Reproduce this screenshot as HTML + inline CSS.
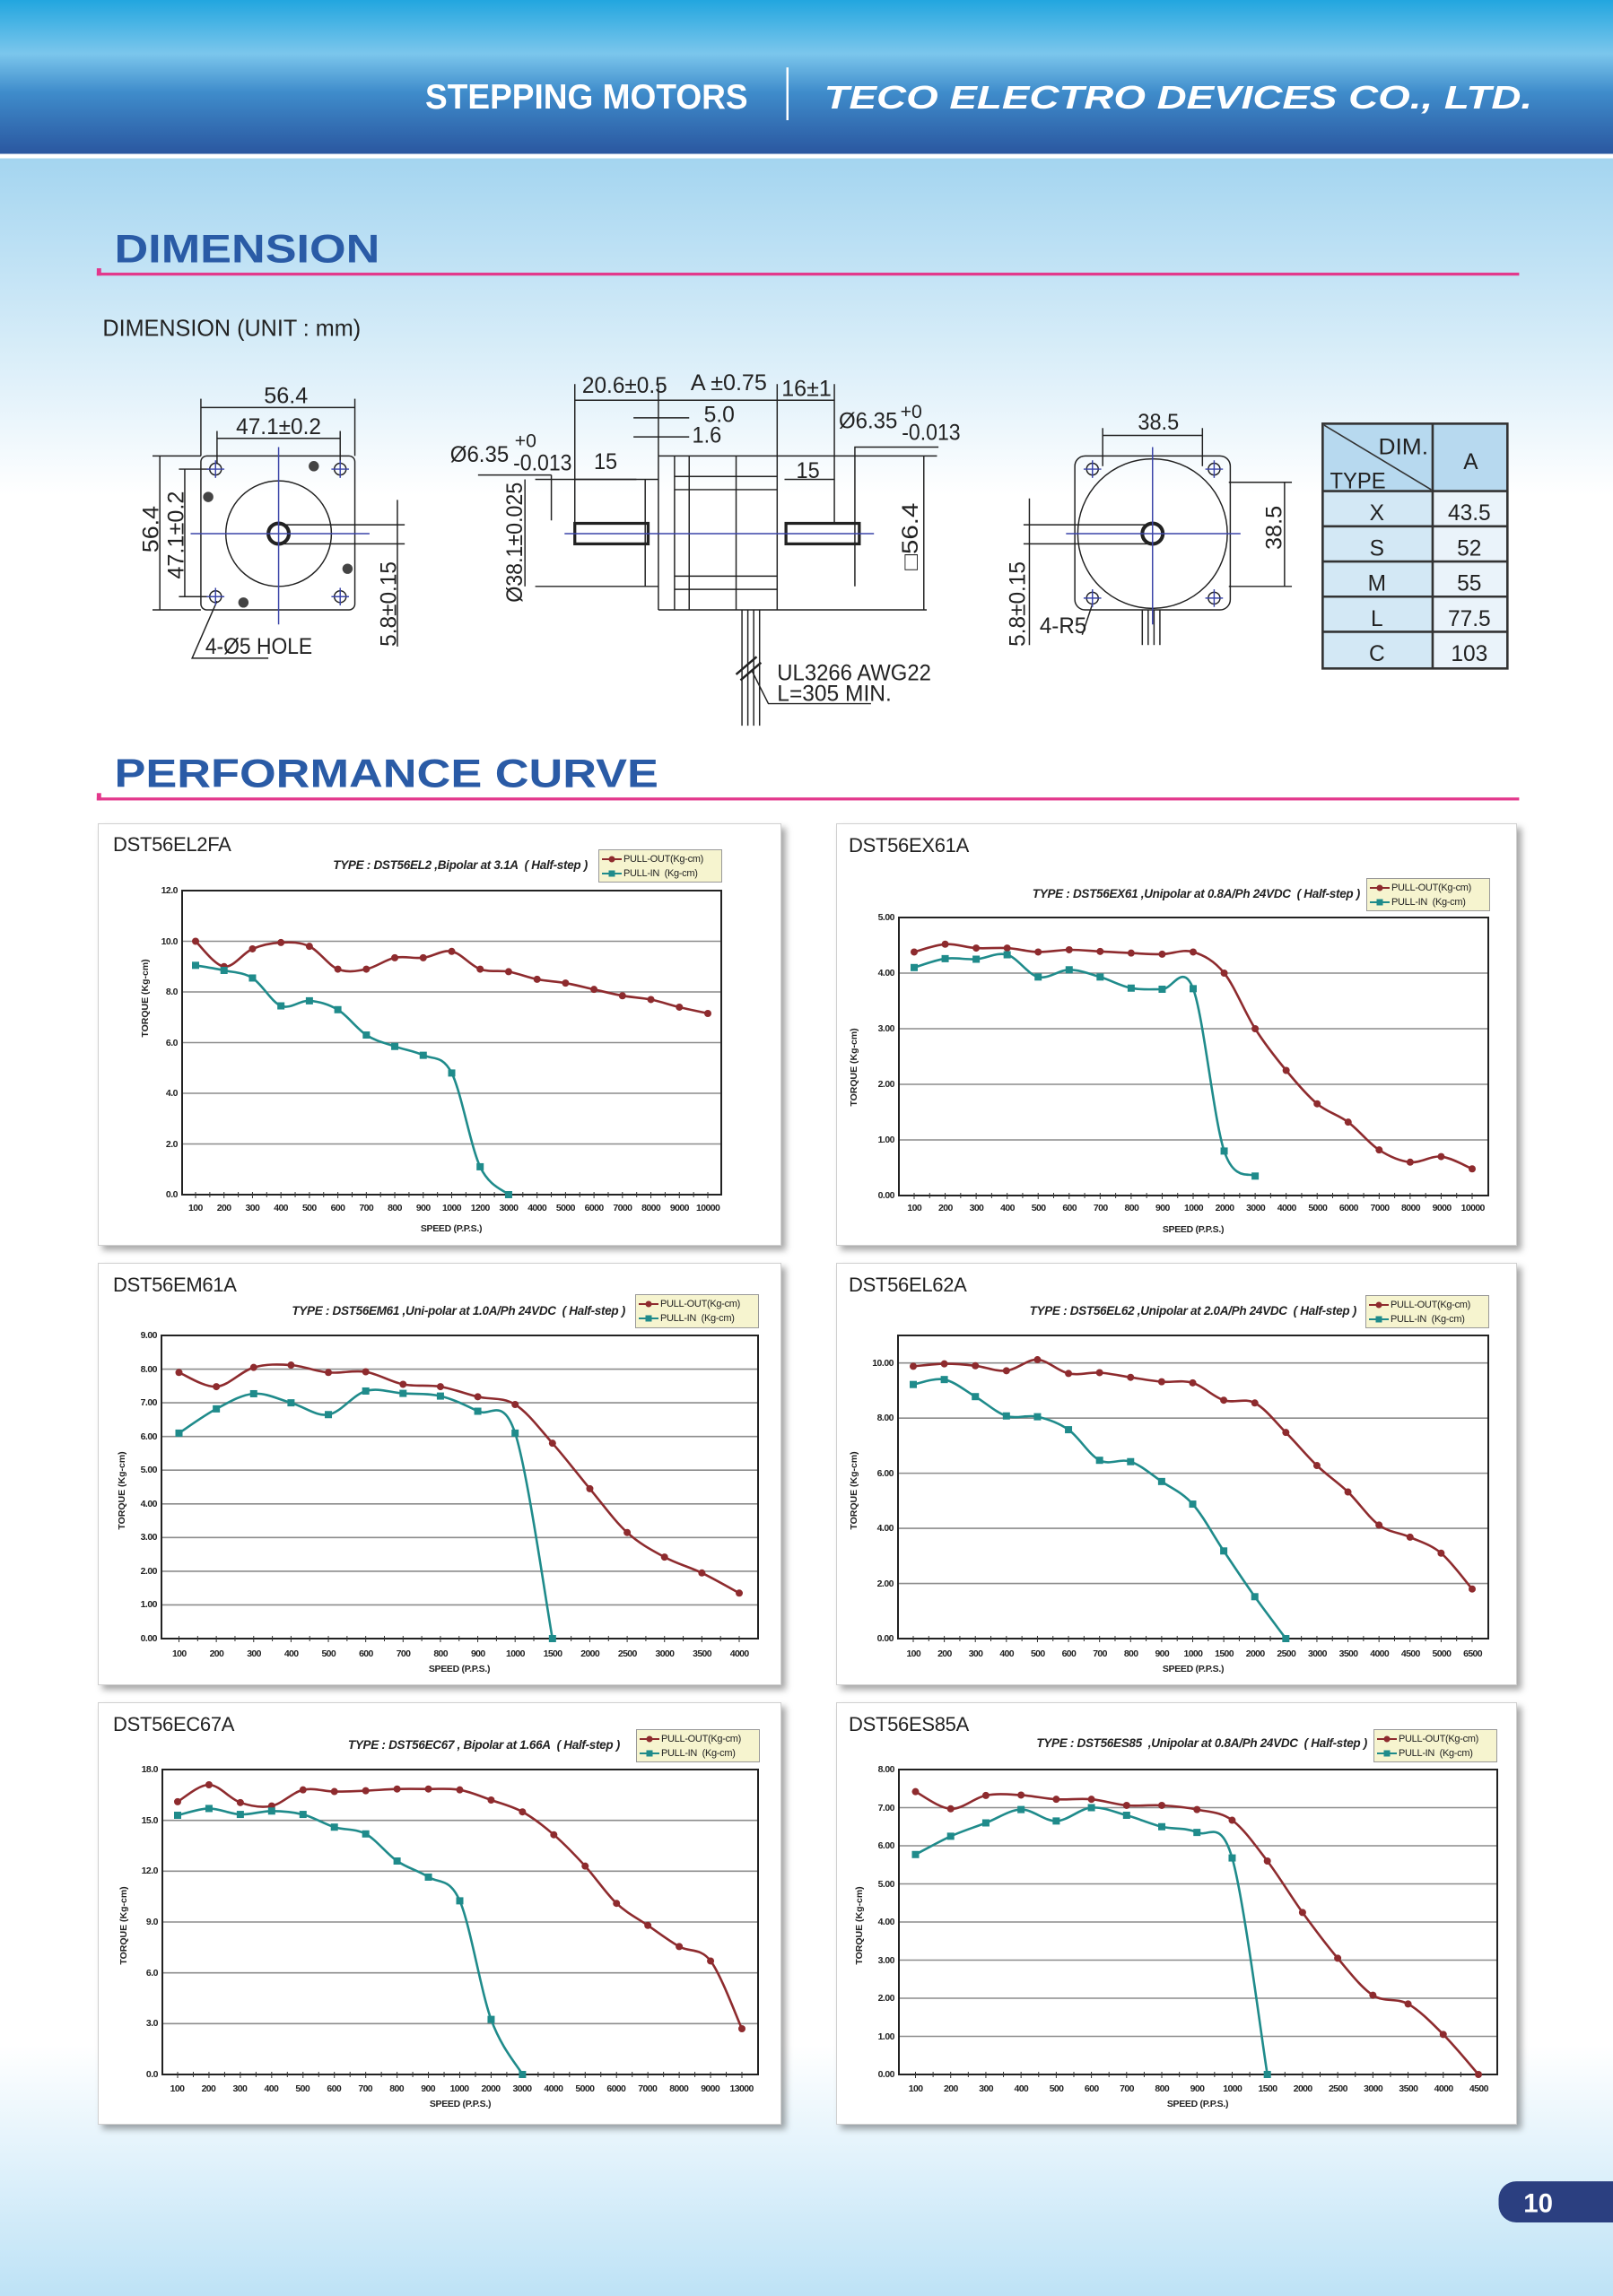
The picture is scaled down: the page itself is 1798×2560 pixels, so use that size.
<!DOCTYPE html>
<html><head><meta charset="utf-8">
<style>
html,body{margin:0;padding:0}
body{width:1798px;height:2560px;position:relative;overflow:hidden;font-family:"Liberation Sans",sans-serif;background:#fff}
.abs{position:absolute}
.panel{position:absolute;background:#fff;border:1px solid #d0d0d0;box-shadow:5px 5px 7px rgba(0,0,0,.35)}
.ttl{position:absolute;font-size:22px;color:#222;letter-spacing:-0.3px;line-height:24px}
.typ{position:absolute;font-size:13.5px;font-weight:bold;font-style:italic;color:#222;white-space:nowrap;line-height:16px;letter-spacing:-0.3px}
.leg{position:absolute;background:#f6f4cf;border:1px solid #999;box-sizing:border-box;font-size:11px;color:#222;padding:2px 0 0 3px;line-height:16px;letter-spacing:-0.3px}
.leg div{display:flex;align-items:center;height:16px}
.leg svg{margin-right:2px}
.xl{position:absolute;display:flex;font-size:10.5px;font-weight:bold;color:#222;letter-spacing:-0.6px;line-height:14px}
.xl span{flex:1;text-align:center;white-space:nowrap}
.yl{position:absolute;display:flex;flex-direction:column;justify-content:space-between;font-size:10.5px;font-weight:bold;color:#222;text-align:right;letter-spacing:-0.5px}
.yl span{line-height:16px;height:16px}
.sp{position:absolute;font-size:10.5px;font-weight:bold;color:#222;transform:translateX(-50%);white-space:nowrap;letter-spacing:-0.3px}
.ya{position:absolute;font-size:10.5px;font-weight:bold;color:#222;white-space:nowrap;transform:translate(-50%,-50%) rotate(-90deg)}
</style></head><body>

<svg class="abs" style="left:0;top:0" width="1798" height="2560" viewBox="0 0 1100 1566.2" preserveAspectRatio="none" font-family="Liberation Sans, sans-serif">
<defs>
<linearGradient id="hd" x1="0" y1="0" x2="0" y2="1">
<stop offset="0" stop-color="#22a6df"/><stop offset="0.35" stop-color="#7bc6ec"/><stop offset="0.6" stop-color="#3f8ccb"/><stop offset="1" stop-color="#2a57a0"/></linearGradient>
<linearGradient id="bd" x1="0" y1="0" x2="0" y2="1">
<stop offset="0" stop-color="#a4d5f0"/><stop offset="1" stop-color="#ffffff"/></linearGradient>
<linearGradient id="bt" x1="0" y1="0" x2="0" y2="1">
<stop offset="0" stop-color="#ffffff"/><stop offset="1" stop-color="#bde2f6"/></linearGradient>
</defs>
<rect x="0" y="0" width="1100" height="105" fill="url(#hd)"/>
<rect x="0" y="105" width="1100" height="3" fill="#fff"/>
<rect x="0" y="108" width="1100" height="230" fill="url(#bd)"/>
<rect x="0" y="1395" width="1100" height="172" fill="url(#bt)"/>
<text x="290" y="74" font-size="24" font-weight="bold" fill="#fff" textLength="220" lengthAdjust="spacingAndGlyphs">STEPPING MOTORS</text>
<line x1="537" y1="46" x2="537" y2="82" stroke="#fff" stroke-width="1.5"/>
<text x="562" y="74" font-size="22" font-weight="bold" font-style="italic" fill="#fff" textLength="483" lengthAdjust="spacingAndGlyphs">TECO ELECTRO DEVICES CO., LTD.</text>
<text x="78" y="179" font-size="27" font-weight="bold" fill="#2a5ba6" textLength="181" lengthAdjust="spacingAndGlyphs">DIMENSION</text>
<rect x="66" y="186" width="970" height="2" fill="#e3388c"/><rect x="66" y="183" width="3" height="5" fill="#e3388c"/>
<text x="78" y="537" font-size="27" font-weight="bold" fill="#2a5ba6" textLength="371" lengthAdjust="spacingAndGlyphs">PERFORMANCE CURVE</text>
<rect x="66" y="544" width="970" height="2" fill="#e3388c"/><rect x="66" y="541" width="3" height="5" fill="#e3388c"/>
<text x="70" y="229" font-size="16" fill="#222" textLength="176" lengthAdjust="spacingAndGlyphs">DIMENSION (UNIT : mm)</text>

<g stroke="#222" stroke-width="0.9" fill="none">
<!-- left view -->
<rect x="137" y="311" width="105" height="105" rx="4"/>
<circle cx="190" cy="364" r="36"/>
<circle cx="190" cy="364" r="7" stroke-width="2.5"/>
<circle cx="147" cy="320" r="4"/><circle cx="232" cy="320" r="4"/><circle cx="147" cy="407" r="4"/><circle cx="232" cy="407" r="4"/>
<line x1="137" y1="278" x2="242" y2="278"/><line x1="148" y1="299" x2="232" y2="299"/>
<line x1="137" y1="272" x2="137" y2="311"/><line x1="242" y1="272" x2="242" y2="311"/>
<line x1="148" y1="294" x2="148" y2="316"/><line x1="232" y1="294" x2="232" y2="316"/>
<line x1="109" y1="311" x2="109" y2="416"/><line x1="126" y1="320" x2="126" y2="407"/>
<line x1="104" y1="311" x2="137" y2="311"/><line x1="104" y1="416" x2="137" y2="416"/>
<line x1="122" y1="320" x2="143" y2="320"/><line x1="122" y1="407" x2="143" y2="407"/>
<line x1="271" y1="341" x2="271" y2="441"/><line x1="190" y1="358" x2="276" y2="358"/><line x1="190" y1="371" x2="276" y2="371"/>
<polyline points="148,410 131,449 183,449"/>
<!-- side view -->
<line x1="449" y1="311" x2="639" y2="311"/><line x1="449" y1="416" x2="632" y2="416"/>
<line x1="449" y1="311" x2="449" y2="416"/><line x1="460" y1="311" x2="460" y2="416"/><line x1="470" y1="311" x2="470" y2="416"/>
<line x1="502" y1="311" x2="502" y2="416"/><line x1="530" y1="311" x2="530" y2="416"/>
<line x1="460" y1="325" x2="530" y2="325"/><line x1="460" y1="334" x2="530" y2="334"/><line x1="460" y1="393" x2="530" y2="393"/><line x1="460" y1="402" x2="530" y2="402"/>
<rect x="392" y="357" width="50" height="14" stroke-width="2"/>
<line x1="440" y1="327" x2="440" y2="400"/>
<line x1="365" y1="327" x2="449" y2="327"/><line x1="365" y1="400" x2="449" y2="400"/>
<rect x="536" y="357" width="50" height="14" stroke-width="2"/>
<line x1="376" y1="324" x2="376" y2="355"/><polyline points="326,324 376,324"/>
<polyline points="583,400 583,305 640,305"/>
<line x1="392" y1="262" x2="392" y2="357"/><line x1="449" y1="262" x2="449" y2="311"/><line x1="530" y1="262" x2="530" y2="311"/><line x1="569" y1="262" x2="569" y2="357"/>
<line x1="392" y1="273" x2="569" y2="273"/>
<line x1="432" y1="285" x2="470" y2="285"/><line x1="432" y1="298" x2="470" y2="298"/>
<line x1="392" y1="327" x2="434" y2="327"/><line x1="535" y1="327" x2="569" y2="327"/>
<line x1="630" y1="311" x2="630" y2="416"/><line x1="358" y1="327" x2="358" y2="400"/>
<line x1="506" y1="416" x2="506" y2="495"/><line x1="510" y1="416" x2="510" y2="495"/><line x1="514" y1="416" x2="514" y2="495"/><line x1="518" y1="416" x2="518" y2="495"/>
<line x1="502" y1="460" x2="516" y2="448" stroke-width="1.5"/><line x1="505" y1="464" x2="519" y2="452" stroke-width="1.5"/>
<polyline points="513,458 524,480 594,480"/>
<!-- right view -->
<rect x="733" y="311" width="106" height="105" rx="7"/>
<circle cx="786" cy="364" r="51"/>
<circle cx="786" cy="364" r="7" stroke-width="2.5"/>
<circle cx="745" cy="320" r="4"/><circle cx="828" cy="320" r="4"/><circle cx="745" cy="408" r="4"/><circle cx="828" cy="408" r="4"/>
<line x1="752" y1="297" x2="820" y2="297"/><line x1="752" y1="292" x2="752" y2="318"/><line x1="820" y1="292" x2="820" y2="318"/>
<line x1="876" y1="329" x2="876" y2="400"/><line x1="838" y1="329" x2="881" y2="329"/><line x1="838" y1="400" x2="881" y2="400"/>
<line x1="702" y1="340" x2="702" y2="440"/><line x1="698" y1="358" x2="786" y2="358"/><line x1="698" y1="371" x2="786" y2="371"/>
<line x1="745" y1="412" x2="738" y2="433"/>
<line x1="779" y1="416" x2="779" y2="440"/><line x1="783" y1="416" x2="783" y2="440"/><line x1="787" y1="416" x2="787" y2="440"/><line x1="791" y1="416" x2="791" y2="440"/>
</g>
<g fill="#444"><circle cx="214" cy="318" r="3.5"/><circle cx="142" cy="339" r="3.5"/><circle cx="237" cy="388" r="3.5"/><circle cx="166" cy="411" r="3.5"/></g>
<g stroke="#3a44a8" stroke-width="0.9">
<line x1="130" y1="364" x2="252" y2="364"/><line x1="190" y1="305" x2="190" y2="426"/>
<line x1="385" y1="364" x2="596" y2="364"/>
<line x1="727" y1="364" x2="846" y2="364"/><line x1="786" y1="305" x2="786" y2="426"/>
<line x1="141" y1="320" x2="153" y2="320"/><line x1="147" y1="314" x2="147" y2="326"/>
<line x1="226" y1="320" x2="238" y2="320"/><line x1="232" y1="314" x2="232" y2="326"/>
<line x1="141" y1="407" x2="153" y2="407"/><line x1="147" y1="401" x2="147" y2="413"/>
<line x1="226" y1="407" x2="238" y2="407"/><line x1="232" y1="401" x2="232" y2="413"/>
<line x1="739" y1="320" x2="751" y2="320"/><line x1="745" y1="314" x2="745" y2="326"/>
<line x1="822" y1="320" x2="834" y2="320"/><line x1="828" y1="314" x2="828" y2="326"/>
<line x1="739" y1="408" x2="751" y2="408"/><line x1="745" y1="402" x2="745" y2="414"/>
<line x1="822" y1="408" x2="834" y2="408"/><line x1="828" y1="402" x2="828" y2="414"/>
</g>
<g font-size="15" fill="#222">
<text x="180" y="275" textLength="30" lengthAdjust="spacingAndGlyphs">56.4</text>
<text x="161" y="296" textLength="58" lengthAdjust="spacingAndGlyphs">47.1±0.2</text>
<text transform="translate(108,377) rotate(-90)" textLength="32" lengthAdjust="spacingAndGlyphs">56.4</text>
<text transform="translate(125,395) rotate(-90)" textLength="60" lengthAdjust="spacingAndGlyphs">47.1±0.2</text>
<text transform="translate(270,441) rotate(-90)" textLength="58" lengthAdjust="spacingAndGlyphs">5.8±0.15</text>
<text x="140" y="446" textLength="73" lengthAdjust="spacingAndGlyphs">4-Ø5 HOLE</text>
<text x="397" y="268" textLength="58" lengthAdjust="spacingAndGlyphs">20.6±0.5</text>
<text x="471" y="266" textLength="52" lengthAdjust="spacingAndGlyphs">A ±0.75</text>
<text x="533" y="270" textLength="34" lengthAdjust="spacingAndGlyphs">16±1</text>
<text x="480" y="288" textLength="21" lengthAdjust="spacingAndGlyphs">5.0</text>
<text x="472" y="302" textLength="20" lengthAdjust="spacingAndGlyphs">1.6</text>
<text x="307" y="315" textLength="40" lengthAdjust="spacingAndGlyphs">Ø6.35</text>
<text x="351" y="305" font-size="13">+0</text>
<text x="350" y="321" textLength="40" lengthAdjust="spacingAndGlyphs">-0.013</text>
<text x="405" y="320" textLength="16" lengthAdjust="spacingAndGlyphs">15</text>
<text x="543" y="326" textLength="16" lengthAdjust="spacingAndGlyphs">15</text>
<text x="572" y="292" textLength="40" lengthAdjust="spacingAndGlyphs">Ø6.35</text>
<text x="614" y="285" font-size="13">+0</text>
<text x="615" y="300" textLength="40" lengthAdjust="spacingAndGlyphs">-0.013</text>
<text transform="translate(356,411) rotate(-90)" textLength="82" lengthAdjust="spacingAndGlyphs">Ø38.1±0.025</text>
<text transform="translate(626,389) rotate(-90)" textLength="46" lengthAdjust="spacingAndGlyphs">□56.4</text>
<text x="530" y="464" textLength="105" lengthAdjust="spacingAndGlyphs">UL3266 AWG22</text>
<text x="530" y="478" textLength="78" lengthAdjust="spacingAndGlyphs">L=305 MIN.</text>
<text x="776" y="293" textLength="28" lengthAdjust="spacingAndGlyphs">38.5</text>
<text transform="translate(874,375) rotate(-90)" textLength="30" lengthAdjust="spacingAndGlyphs">38.5</text>
<text transform="translate(699,441) rotate(-90)" textLength="58" lengthAdjust="spacingAndGlyphs">5.8±0.15</text>
<text x="709" y="432" textLength="32" lengthAdjust="spacingAndGlyphs">4-R5</text>
</g>
<!-- table -->
<rect x="902" y="289" width="126" height="46" fill="#b7d9ef"/>
<rect x="902" y="335" width="75" height="121" fill="#d3e8f5"/>
<rect x="977" y="335" width="51" height="121" fill="#eaf3fa"/>
<g stroke="#333" stroke-width="1.6" fill="none">
<rect x="902" y="289" width="126" height="167"/>
<line x1="977" y1="289" x2="977" y2="456"/>
<line x1="902" y1="335" x2="1028" y2="335"/><line x1="902" y1="359" x2="1028" y2="359"/><line x1="902" y1="383" x2="1028" y2="383"/><line x1="902" y1="407" x2="1028" y2="407"/><line x1="902" y1="431" x2="1028" y2="431"/>
<line x1="903" y1="290" x2="976" y2="334" stroke-width="1"/>
</g>
<g font-size="15" fill="#222" text-anchor="middle">
<text x="957" y="310" textLength="34" lengthAdjust="spacingAndGlyphs">DIM.</text>
<text x="926" y="333" textLength="38" lengthAdjust="spacingAndGlyphs">TYPE</text>
<text x="1003" y="320">A</text>
<text x="939" y="355">X</text><text x="1002" y="355">43.5</text>
<text x="939" y="379">S</text><text x="1002" y="379">52</text>
<text x="939" y="403">M</text><text x="1002" y="403">55</text>
<text x="939" y="427">L</text><text x="1002" y="427">77.5</text>
<text x="939" y="451">C</text><text x="1002" y="451">103</text>
</g>
<rect x="1022" y="1488" width="100" height="28" rx="12" fill="#2b3f80"/>
<text x="1049" y="1509" font-size="18" font-weight="bold" fill="#fff" text-anchor="middle">10</text>
</svg>

<div class="panel" style="left:109px;top:918px;width:760px;height:469px"></div>
<div class="panel" style="left:932px;top:918px;width:757px;height:469px"></div>
<div class="panel" style="left:109px;top:1408px;width:760px;height:469px"></div>
<div class="panel" style="left:932px;top:1408px;width:757px;height:469px"></div>
<div class="panel" style="left:109px;top:1898px;width:760px;height:469px"></div>
<div class="panel" style="left:932px;top:1898px;width:757px;height:469px"></div>

<svg id="ch" class="abs" style="left:0;top:0" width="1798" height="2560"></svg>

<!-- Chart 1 -->
<div class="ttl" style="left:126px;top:930px">DST56EL2FA</div>
<div class="typ" style="right:1143px;top:957px">TYPE : DST56EL2 ,Bipolar at 3.1A&nbsp; ( Half-step )</div>
<div class="leg" style="left:667px;top:947px;width:138px;height:37px">
<div><svg width="22" height="10"><line x1="0" y1="5" x2="22" y2="5" stroke="#8e2b2e" stroke-width="2"/><circle cx="11" cy="5" r="3.5" fill="#8e2b2e"/></svg>PULL-OUT(Kg-cm)</div>
<div><svg width="22" height="10"><line x1="0" y1="5" x2="22" y2="5" stroke="#1f8b8b" stroke-width="2"/><rect x="7.5" y="1.5" width="7" height="7" fill="#1f8b8b"/></svg>PULL-IN&nbsp; (Kg-cm)</div></div>
<div class="yl" style="right:1600px;top:985px;height:355px"><span>12.0</span><span>10.0</span><span>8.0</span><span>6.0</span><span>4.0</span><span>2.0</span><span>0.0</span></div>
<div class="xl" style="left:202px;top:1340px;width:603px"><span>100</span><span>200</span><span>300</span><span>400</span><span>500</span><span>600</span><span>700</span><span>800</span><span>900</span><span>1000</span><span>1200</span><span>3000</span><span>4000</span><span>5000</span><span>6000</span><span>7000</span><span>8000</span><span>9000</span><span>10000</span></div>
<div class="sp" style="left:503px;top:1364px">SPEED (P.P.S.)</div>
<div class="ya" style="left:162px;top:1113px">TORQUE (Kg-cm)</div>

<!-- Chart 2 -->
<div class="ttl" style="left:946px;top:931px">DST56EX61A</div>
<div class="typ" style="right:282px;top:989px">TYPE : DST56EX61 ,Unipolar at 0.8A/Ph 24VDC&nbsp; ( Half-step )</div>
<div class="leg" style="left:1523px;top:979px;width:138px;height:37px">
<div><svg width="22" height="10"><line x1="0" y1="5" x2="22" y2="5" stroke="#8e2b2e" stroke-width="2"/><circle cx="11" cy="5" r="3.5" fill="#8e2b2e"/></svg>PULL-OUT(Kg-cm)</div>
<div><svg width="22" height="10"><line x1="0" y1="5" x2="22" y2="5" stroke="#1f8b8b" stroke-width="2"/><rect x="7.5" y="1.5" width="7" height="7" fill="#1f8b8b"/></svg>PULL-IN&nbsp; (Kg-cm)</div></div>
<div class="yl" style="right:801px;top:1015px;height:326px"><span>5.00</span><span>4.00</span><span>3.00</span><span>2.00</span><span>1.00</span><span>0.00</span></div>
<div class="xl" style="left:1002px;top:1340px;width:657px"><span>100</span><span>200</span><span>300</span><span>400</span><span>500</span><span>600</span><span>700</span><span>800</span><span>900</span><span>1000</span><span>2000</span><span>3000</span><span>4000</span><span>5000</span><span>6000</span><span>7000</span><span>8000</span><span>9000</span><span>10000</span></div>
<div class="sp" style="left:1330px;top:1365px">SPEED (P.P.S.)</div>
<div class="ya" style="left:952px;top:1190px">TORQUE (Kg-cm)</div>

<!-- Chart 3 -->
<div class="ttl" style="left:126px;top:1421px">DST56EM61A</div>
<div class="typ" style="right:1101px;top:1454px">TYPE : DST56EM61 ,Uni-polar at 1.0A/Ph 24VDC&nbsp; ( Half-step )</div>
<div class="leg" style="left:708px;top:1443px;width:138px;height:38px">
<div><svg width="22" height="10"><line x1="0" y1="5" x2="22" y2="5" stroke="#8e2b2e" stroke-width="2"/><circle cx="11" cy="5" r="3.5" fill="#8e2b2e"/></svg>PULL-OUT(Kg-cm)</div>
<div><svg width="22" height="10"><line x1="0" y1="5" x2="22" y2="5" stroke="#1f8b8b" stroke-width="2"/><rect x="7.5" y="1.5" width="7" height="7" fill="#1f8b8b"/></svg>PULL-IN&nbsp; (Kg-cm)</div></div>
<div class="yl" style="right:1623px;top:1481px;height:354px"><span>9.00</span><span>8.00</span><span>7.00</span><span>6.00</span><span>5.00</span><span>4.00</span><span>3.00</span><span>2.00</span><span>1.00</span><span>0.00</span></div>
<div class="xl" style="left:179px;top:1837px;width:666px"><span>100</span><span>200</span><span>300</span><span>400</span><span>500</span><span>600</span><span>700</span><span>800</span><span>900</span><span>1000</span><span>1500</span><span>2000</span><span>2500</span><span>3000</span><span>3500</span><span>4000</span></div>
<div class="sp" style="left:512px;top:1855px">SPEED (P.P.S.)</div>
<div class="ya" style="left:136px;top:1662px">TORQUE (Kg-cm)</div>

<!-- Chart 4 -->
<div class="ttl" style="left:946px;top:1421px">DST56EL62A</div>
<div class="typ" style="right:286px;top:1454px">TYPE : DST56EL62 ,Unipolar at 2.0A/Ph 24VDC&nbsp; ( Half-step )</div>
<div class="leg" style="left:1522px;top:1444px;width:138px;height:37px">
<div><svg width="22" height="10"><line x1="0" y1="5" x2="22" y2="5" stroke="#8e2b2e" stroke-width="2"/><circle cx="11" cy="5" r="3.5" fill="#8e2b2e"/></svg>PULL-OUT(Kg-cm)</div>
<div><svg width="22" height="10"><line x1="0" y1="5" x2="22" y2="5" stroke="#1f8b8b" stroke-width="2"/><rect x="7.5" y="1.5" width="7" height="7" fill="#1f8b8b"/></svg>PULL-IN&nbsp; (Kg-cm)</div></div>
<div class="yl" style="right:802px;top:1512px;height:323px"><span>10.00</span><span>8.00</span><span>6.00</span><span>4.00</span><span>2.00</span><span>0.00</span></div>
<div class="xl" style="left:1001px;top:1837px;width:658px"><span>100</span><span>200</span><span>300</span><span>400</span><span>500</span><span>600</span><span>700</span><span>800</span><span>900</span><span>1000</span><span>1500</span><span>2000</span><span>2500</span><span>3000</span><span>3500</span><span>4000</span><span>4500</span><span>5000</span><span>6500</span></div>
<div class="sp" style="left:1330px;top:1855px">SPEED (P.P.S.)</div>
<div class="ya" style="left:952px;top:1662px">TORQUE (Kg-cm)</div>

<!-- Chart 5 -->
<div class="ttl" style="left:126px;top:1911px">DST56EC67A</div>
<div class="typ" style="right:1107px;top:1938px">TYPE : DST56EC67 , Bipolar at 1.66A&nbsp; ( Half-step )</div>
<div class="leg" style="left:709px;top:1928px;width:138px;height:37px">
<div><svg width="22" height="10"><line x1="0" y1="5" x2="22" y2="5" stroke="#8e2b2e" stroke-width="2"/><circle cx="11" cy="5" r="3.5" fill="#8e2b2e"/></svg>PULL-OUT(Kg-cm)</div>
<div><svg width="22" height="10"><line x1="0" y1="5" x2="22" y2="5" stroke="#1f8b8b" stroke-width="2"/><rect x="7.5" y="1.5" width="7" height="7" fill="#1f8b8b"/></svg>PULL-IN&nbsp; (Kg-cm)</div></div>
<div class="yl" style="right:1622px;top:1965px;height:356px"><span>18.0</span><span>15.0</span><span>12.0</span><span>9.0</span><span>6.0</span><span>3.0</span><span>0.0</span></div>
<div class="xl" style="left:180px;top:2322px;width:664px"><span>100</span><span>200</span><span>300</span><span>400</span><span>500</span><span>600</span><span>700</span><span>800</span><span>900</span><span>1000</span><span>2000</span><span>3000</span><span>4000</span><span>5000</span><span>6000</span><span>7000</span><span>8000</span><span>9000</span><span>13000</span></div>
<div class="sp" style="left:513px;top:2340px">SPEED (P.P.S.)</div>
<div class="ya" style="left:138px;top:2147px">TORQUE (Kg-cm)</div>

<!-- Chart 6 -->
<div class="ttl" style="left:946px;top:1911px">DST56ES85A</div>
<div class="typ" style="right:274px;top:1936px">TYPE : DST56ES85&nbsp; ,Unipolar at 0.8A/Ph 24VDC&nbsp; ( Half-step )</div>
<div class="leg" style="left:1531px;top:1928px;width:138px;height:37px">
<div><svg width="22" height="10"><line x1="0" y1="5" x2="22" y2="5" stroke="#8e2b2e" stroke-width="2"/><circle cx="11" cy="5" r="3.5" fill="#8e2b2e"/></svg>PULL-OUT(Kg-cm)</div>
<div><svg width="22" height="10"><line x1="0" y1="5" x2="22" y2="5" stroke="#1f8b8b" stroke-width="2"/><rect x="7.5" y="1.5" width="7" height="7" fill="#1f8b8b"/></svg>PULL-IN&nbsp; (Kg-cm)</div></div>
<div class="yl" style="right:801px;top:1965px;height:356px"><span>8.00</span><span>7.00</span><span>6.00</span><span>5.00</span><span>4.00</span><span>3.00</span><span>2.00</span><span>1.00</span><span>0.00</span></div>
<div class="xl" style="left:1001px;top:2322px;width:667px"><span>100</span><span>200</span><span>300</span><span>400</span><span>500</span><span>600</span><span>700</span><span>800</span><span>900</span><span>1000</span><span>1500</span><span>2000</span><span>2500</span><span>3000</span><span>3500</span><span>4000</span><span>4500</span></div>
<div class="sp" style="left:1335px;top:2340px">SPEED (P.P.S.)</div>
<div class="ya" style="left:958px;top:2147px">TORQUE (Kg-cm)</div>

<script>
(function(){
var C=[
{L:203,R:804,T:993,B:1332,f:218,l:789,n:19,ym:12,g:[2,4,6,8,10],
po:[10.0,9.0,9.7,9.95,9.8,8.9,8.9,9.35,9.35,9.6,8.9,8.8,8.5,8.35,8.1,7.85,7.7,7.4,7.15],
pi:[9.05,8.85,8.55,7.45,7.65,7.3,6.3,5.85,5.5,4.8,1.1,0]},
{L:1002,R:1659,T:1023,B:1333,f:1019,l:1641,n:19,ym:5,g:[1,2,3,4],
po:[4.38,4.52,4.45,4.45,4.38,4.42,4.39,4.36,4.34,4.38,4.0,3.0,2.25,1.65,1.32,0.82,0.6,0.7,0.48],
pi:[4.1,4.26,4.25,4.33,3.93,4.06,3.93,3.73,3.71,3.72,0.8,0.35]},
{L:180,R:845,T:1489,B:1827,f:199.5,l:824,n:16,ym:9,g:[1,2,3,4,5,6,7,8],
po:[7.9,7.48,8.05,8.12,7.9,7.92,7.55,7.48,7.18,6.95,5.8,4.45,3.15,2.42,1.95,1.35],
pi:[6.1,6.82,7.27,7.0,6.65,7.35,7.28,7.2,6.75,6.1,0]},
{L:1001,R:1659,T:1489,B:1827,f:1018,l:1641,n:19,ym:11,g:[2,4,6,8,10],
po:[9.88,9.97,9.9,9.72,10.12,9.62,9.65,9.48,9.32,9.28,8.65,8.55,7.48,6.28,5.32,4.12,3.68,3.1,1.8],
pi:[9.22,9.4,8.78,8.08,8.05,7.58,6.47,6.42,5.7,4.88,3.18,1.52,0]},
{L:181,R:845,T:1973,B:2313,f:198,l:827,n:19,ym:18,g:[3,6,9,12,15],
po:[16.1,17.1,16.05,15.85,16.8,16.7,16.75,16.85,16.85,16.8,16.2,15.5,14.15,12.3,10.1,8.8,7.55,6.7,2.7],
pi:[15.3,15.7,15.35,15.55,15.35,14.6,14.2,12.6,11.65,10.25,3.25,0]},
{L:1002,R:1669,T:1973,B:2313,f:1020.5,l:1648,n:17,ym:8,g:[1,2,3,4,5,6,7],
po:[7.42,6.97,7.32,7.33,7.22,7.22,7.06,7.06,6.95,6.67,5.6,4.25,3.05,2.08,1.85,1.05,0.0],
pi:[5.77,6.25,6.6,6.95,6.65,7.0,6.8,6.5,6.35,5.68,0]}
];
var s='';
function path(p){
 var d='M'+p[0][0].toFixed(1)+','+p[0][1].toFixed(1);
 for(var i=0;i<p.length-1;i++){
  var p0=p[i>0?i-1:i],p1=p[i],p2=p[i+1],p3=p[i+2<p.length?i+2:i+1];
  var c1x=p1[0]+(p2[0]-p0[0])/6,c1y=p1[1]+(p2[1]-p0[1])/6;
  var c2x=p2[0]-(p3[0]-p1[0])/6,c2y=p2[1]-(p3[1]-p1[1])/6;
  d+=' C'+c1x.toFixed(1)+','+c1y.toFixed(1)+' '+c2x.toFixed(1)+','+c2y.toFixed(1)+' '+p2[0].toFixed(1)+','+p2[1].toFixed(1);
 }
 return d;
}
C.forEach(function(c){
 var sp=(c.l-c.f)/(c.n-1);
 function Y(v){return c.B-v/c.ym*(c.B-c.T);}
 c.g.forEach(function(v){s+='<line x1="'+c.L+'" x2="'+c.R+'" y1="'+Y(v)+'" y2="'+Y(v)+'" stroke="#8c8c8c" stroke-width="1.6"/>';});
 s+='<rect x="'+c.L+'" y="'+c.T+'" width="'+(c.R-c.L)+'" height="'+(c.B-c.T)+'" fill="none" stroke="#222" stroke-width="2"/>';
 for(var i=0;i<c.n;i++){var x=c.f+i*sp;s+='<line x1="'+x+'" x2="'+x+'" y1="'+(c.B-3)+'" y2="'+(c.B+4)+'" stroke="#333" stroke-width="1"/>';
  if(i<c.n-1){s+='<line x1="'+(x+sp/2)+'" x2="'+(x+sp/2)+'" y1="'+(c.B-3)+'" y2="'+(c.B+3)+'" stroke="#333" stroke-width="1"/>';}}
 [['po','#8e2b2e'],['pi','#1f8b8b']].forEach(function(q){
  var pts=c[q[0]].map(function(v,i){return [c.f+i*sp,Y(v)];});
  s+='<path d="'+path(pts)+'" fill="none" stroke="'+q[1]+'" stroke-width="2.6"/>';
  pts.forEach(function(p){
   if(q[0]=='po')s+='<circle cx="'+p[0]+'" cy="'+p[1]+'" r="4" fill="'+q[1]+'"/>';
   else s+='<rect x="'+(p[0]-4)+'" y="'+(p[1]-4)+'" width="8" height="8" fill="'+q[1]+'"/>';
  });
 });
});
document.getElementById('ch').innerHTML=s;
})();
</script>
</body></html>
